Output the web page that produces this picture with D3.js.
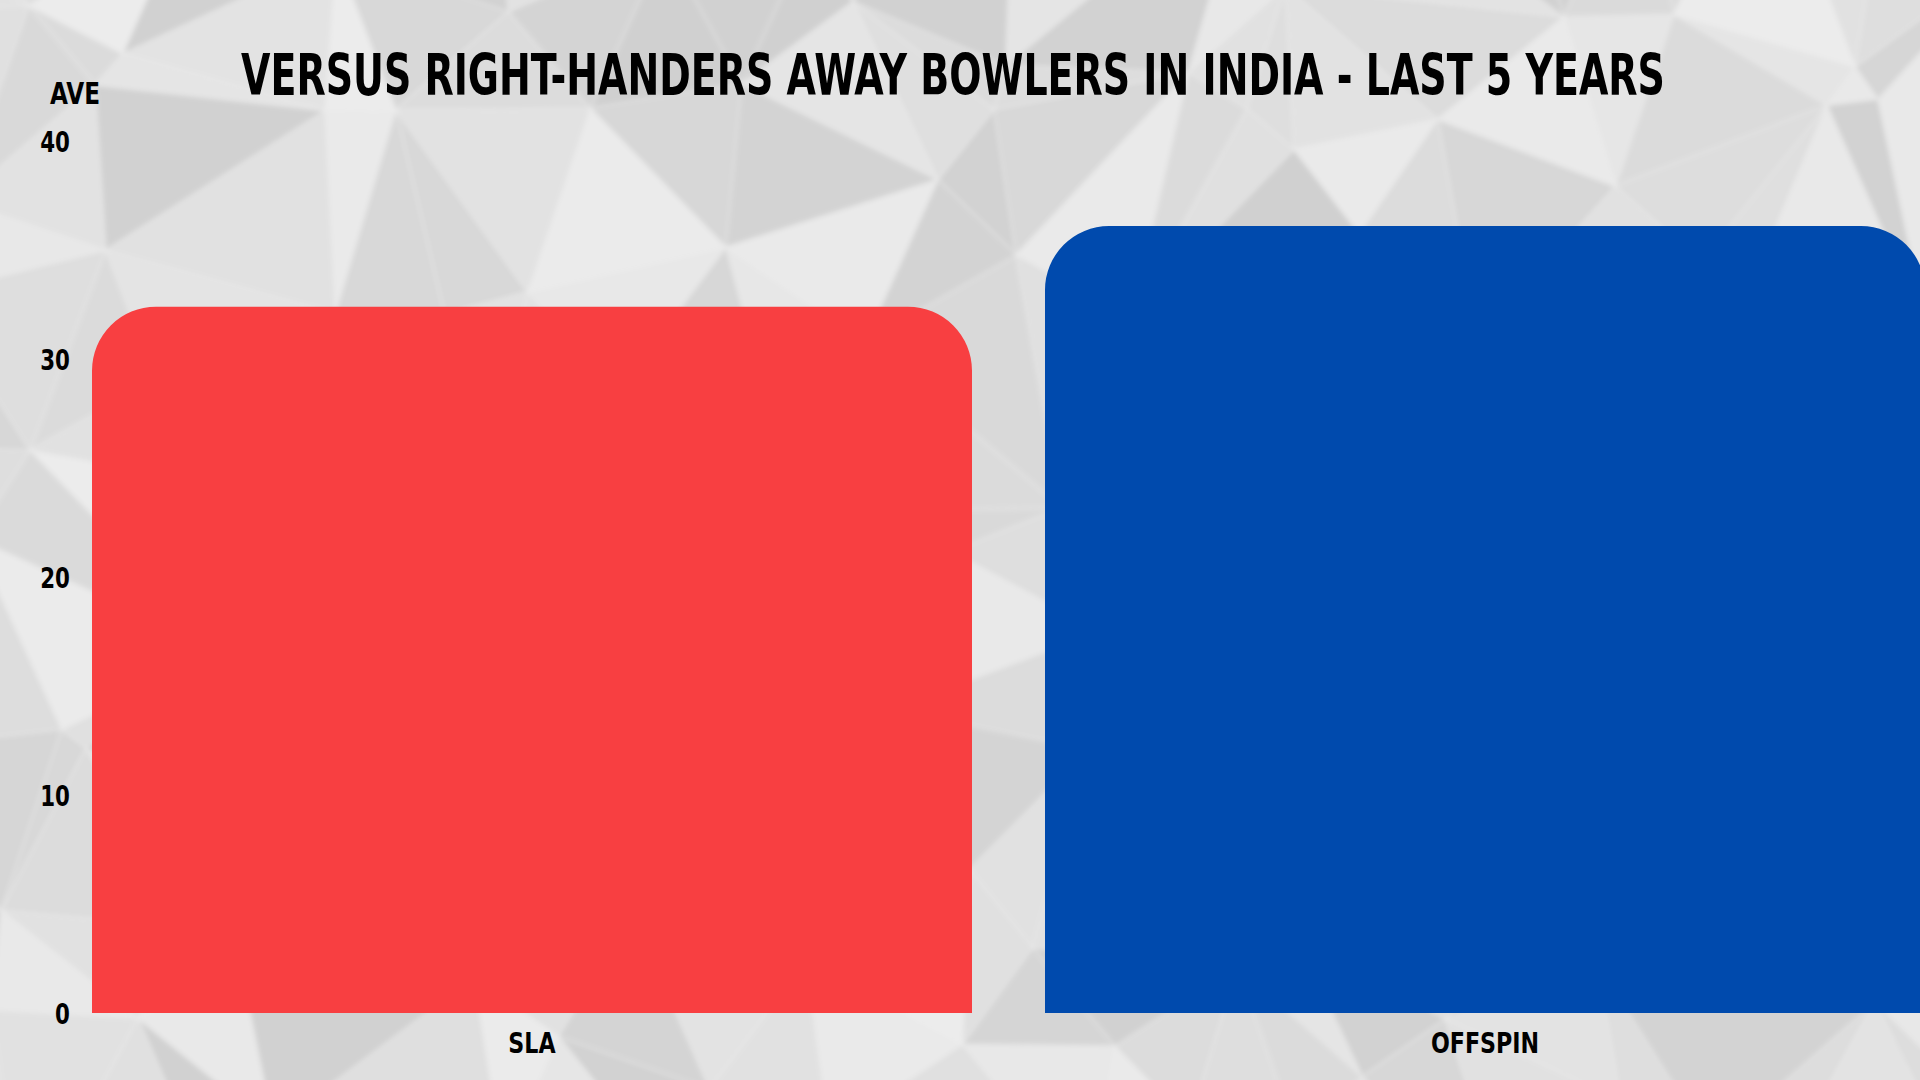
<!DOCTYPE html>
<html>
<head>
<meta charset="utf-8">
<script src="https://cdn.jsdelivr.net/npm/d3@7"></script>
<style>
  html, body { margin: 0; padding: 0; background: #dcdcdc; }
  svg { display: block; }
  text { font-family: "DejaVu Sans", sans-serif; font-stretch: condensed; font-weight: bold; fill: #000; }
</style>
</head>
<body>
<svg id="chart" width="1920" height="1080"></svg>
<script>
// ---- data ----
const categories = ["SLA", "OFFSPIN"];
const values = [32.4, 36.1];
const colors = ["#f83f41", "#004aad"];
const yTicks = [0, 10, 20, 30, 40];
const titleText = "VERSUS RIGHT-HANDERS AWAY BOWLERS IN INDIA - LAST 5 YEARS";
const yLabel = "AVE";

const W = 1920, H = 1080;
const svg = d3.select("#chart");

// ---- background: crumpled-paper like facets (decorative) ----
const defs = svg.append("defs");
defs.append("filter").attr("id", "soft").append("feGaussianBlur").attr("stdDeviation", 2.5);
const bg = svg.append("g");
bg.append("rect").attr("width", W).attr("height", H).attr("fill", "#dddddd");
const facets = bg.append("g").attr("filter", "url(#soft)");
let seed = 987654;
function lcg() { seed = (seed * 1103515245 + 12345) % 2147483648; return seed / 2147483648; }
const pts = [];
const step = 150;
for (let gx = -step; gx <= W + step; gx += step) {
  for (let gy = -step; gy <= H + step; gy += step) {
    pts.push([gx + (lcg() - 0.5) * step, gy + (lcg() - 0.5) * step]);
  }
}
const del = d3.Delaunay.from(pts);
for (const poly of del.trianglePolygons()) {
  const g = Math.round(208 + lcg() * 28);
  facets.append("path")
    .attr("d", "M" + poly.map(p => p.join(",")).join("L") + "Z")
    .attr("fill", `rgb(${g},${g},${g})`)
    .attr("stroke", "rgba(240,240,240,0.5)")
    .attr("stroke-width", 1.5);
}

// ---- scales ----
const x = d3.scaleBand().domain(categories).range([92, 1925]).paddingInner(0.0766).paddingOuter(0);
const y = d3.scaleLinear().domain([0, 40]).range([1013, 141]);

// ---- bars with rounded top corners ----
const R = 64;
function barPath(x0, x1, yTop, yBot, r) {
  r = Math.min(r, (x1 - x0) / 2, yBot - yTop);
  return `M${x0},${yBot}L${x0},${yTop + r}A${r},${r} 0 0 1 ${x0 + r},${yTop}` +
         `L${x1 - r},${yTop}A${r},${r} 0 0 1 ${x1},${yTop + r}L${x1},${yBot}Z`;
}
svg.append("g").selectAll("path.bar").data(categories).join("path")
  .attr("class", "bar")
  .attr("d", (d, i) => barPath(x(d), x(d) + x.bandwidth(), y(values[i]), y(0), R))
  .attr("fill", (d, i) => colors[i]);

// fit a text's width by horizontal scaling around an anchor x
function fitWidth(sel, targetW, anchorX, anchorY) {
  const node = sel.node();
  const w = node.getComputedTextLength();
  const s = targetW / w;
  sel.attr("transform", `translate(${anchorX},${anchorY}) scale(${s},1)`);
}

// ---- y axis ----
const yAxis = d3.axisLeft(y).tickValues(yTicks).tickSize(0).tickPadding(0).tickFormat(d3.format("d"));
const yg = svg.append("g").attr("transform", "translate(70,0)").call(yAxis);
yg.select(".domain").remove();
yg.selectAll(".tick text")
  .attr("font-size", 29)
  .attr("x", 0)
  .attr("dy", "0.36em")
  .attr("fill", "#000")
  .attr("transform", "scale(0.82,1)");

// ---- x axis ----
const xAxis = d3.axisBottom(x).tickSize(0).tickPadding(0);
const xg = svg.append("g").attr("transform", "translate(0,1013)").call(xAxis);
xg.select(".domain").remove();
xg.selectAll(".tick text")
  .attr("font-size", 29)
  .attr("dy", null)
  .attr("y", 40)
  .attr("fill", "#000")
  .attr("transform", "scale(0.85,1)");

// ---- y label ----
const yl = svg.append("text").attr("x", 0).attr("y", 0).attr("text-anchor", "middle")
  .attr("font-size", 31).text(yLabel);
fitWidth(yl, 50, 75, 104);

// ---- title ----
const tt = svg.append("text").attr("x", 0).attr("y", 0).attr("text-anchor", "middle")
  .attr("font-size", 57)
  .text(titleText);
fitWidth(tt, 1424, 953, 95);
</script>
</body>
</html>
